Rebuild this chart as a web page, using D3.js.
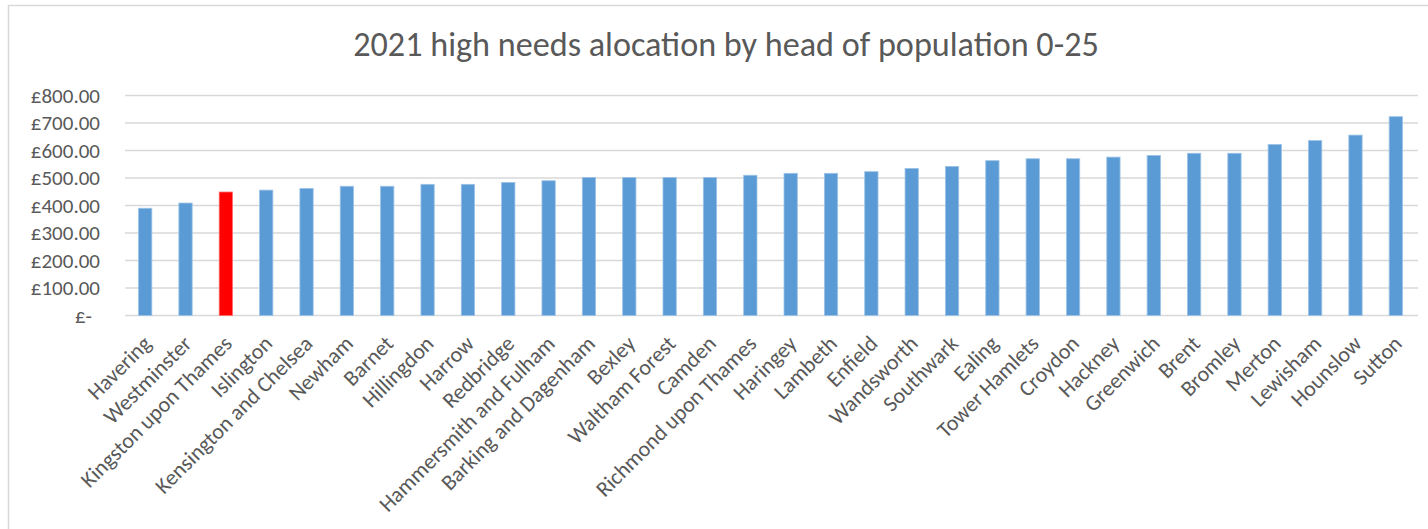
<!DOCTYPE html>
<html>
<head>
<meta charset="utf-8">
<script src="https://cdn.jsdelivr.net/npm/d3@7"></script>
<style>
  html, body { margin: 0; padding: 0; background: #fff; }
  svg { display: block; }
  text { font-family: Carlito, Calibri, Lato, "Open Sans", sans-serif; fill: #595959; }
</style>
</head>
<body>
<svg id="chart" width="1428" height="529"></svg>
<script>
const titleText = "2021 high needs alocation by head of population 0-25";
const boroughs = ["Havering","Westminster","Kingston upon Thames","Islington","Kensington and Chelsea","Newham","Barnet","Hillingdon","Harrow","Redbridge","Hammersmith and Fulham","Barking and Dagenham","Bexley","Waltham Forest","Camden","Richmond upon Thames","Haringey","Lambeth","Enfield","Wandsworth","Southwark","Ealing","Tower Hamlets","Croydon","Hackney","Greenwich","Brent","Bromley","Merton","Lewisham","Hounslow","Sutton"];
const allocation = [390,409,449,456,462,470,470,477,477,484,490,502,502,502,502,510,517,517,523,535,542,563,570,570,576,582,590,590,622,636,656,723];
const highlighted = ["Kingston upon Thames"];
const yTicks = [0,100,200,300,400,500,600,700,800];

const svg = d3.select("#chart");

// chart border
svg.append("rect")
  .attr("x", 8.5).attr("y", 5.5)
  .attr("width", 1440).attr("height", 540)
  .attr("fill", "none").attr("stroke", "#d9d9d9").attr("stroke-width", 1.5);

const x = d3.scaleBand().domain(boroughs).range([125, 1416]).paddingInner(0.67).paddingOuter(0.335);
const y = d3.scaleLinear().domain([0, 800]).range([315.5, 95.5]);

// gridlines
svg.append("g").selectAll("line").data(yTicks).join("line")
  .attr("x1", 125).attr("x2", 1418)
  .attr("y1", d => y(d)).attr("y2", d => y(d))
  .attr("stroke", "#d9d9d9").attr("stroke-width", 1.3);

// y axis labels
const yAxis = d3.axisLeft(y).tickValues(yTicks).tickSize(0)
  .tickFormat(d => d === 0 ? "£-" : "£" + d3.format(".2f")(d));
const gy = svg.append("g").attr("transform", "translate(100,0)").call(yAxis);
gy.select(".domain").remove();
gy.selectAll("text").attr("x", 0).attr("dx", d => d === 0 ? -8 : 0)
  .style("font-size", "21px").attr("fill", "#595959");

// bars
svg.append("g").selectAll("rect").data(boroughs).join("rect")
  .attr("x", d => x(d)).attr("width", x.bandwidth())
  .attr("y", (d, i) => y(allocation[i]))
  .attr("height", (d, i) => y(0) - y(allocation[i]))
  .attr("fill", d => highlighted.includes(d) ? "#ff0000" : "#5b9bd5")
  .attr("stroke", d => highlighted.includes(d) ? "#ff6b6b" : "#9dc3e6")
  .attr("stroke-width", 0.8);

// x axis labels
const xAxis = d3.axisBottom(x).tickSize(0);
const gx = svg.append("g").attr("transform", `translate(0,${y(0)})`).call(xAxis);
gx.select(".domain").remove();
gx.selectAll("text")
  .attr("text-anchor", "end")
  .attr("x", 0).attr("y", 0).attr("dy", "0.35em")
  .attr("transform", "translate(2,24) rotate(-45)")
  .style("font-size", "22px").attr("fill", "#595959");

// title
const t = svg.append("text").attr("x", 726).attr("y", 56)
  .attr("text-anchor", "middle").style("font-size", "30px").text(titleText);
const w = t.node().getComputedTextLength();
t.style("font-size", (30 * 746 / w) + "px");
</script>
</body>
</html>
